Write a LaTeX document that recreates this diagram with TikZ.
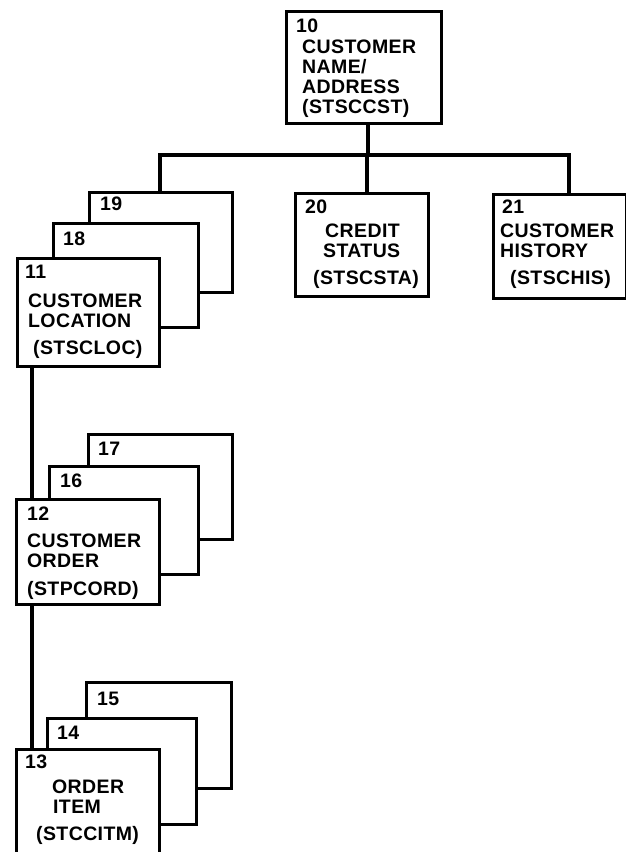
\documentclass[tikz,border=0pt]{standalone}
\usepackage{fontspec}
\setmainfont{Liberation Sans}[LetterSpace=2]
\begin{document}
\begin{tikzpicture}[x=1pt,y=-1pt,
  box/.style={draw=black, fill=white, line width=2.8pt, rectangle, inner sep=0pt, anchor=north west},
  link/.style={draw=black, line width=4.6pt, line join=miter},
  lbl/.style={anchor=base west, inner sep=0pt, font=\bfseries\fontsize{19.5}{20}\selectfont}]
\useasboundingbox (0,0) rectangle (626,852);
\clip (0,0) rectangle (626,852);

% root segment
\node[box, minimum width=155pt, minimum height=112pt] (b10) at (285,10) {};
\node[lbl] (t10a) at (296,32) {10};
\node[lbl] (t10b) at (302,53) {CUSTOMER};
\node[lbl] (t10c) at (302,73) {NAME/};
\node[lbl] (t10d) at (302,93) {ADDRESS};
\node[lbl] (t10e) at (302,113) {(STSCCST)};

% second level: stacked location segments
\node[box, minimum width=143pt, minimum height=100pt] (b19) at (88,191) {};
\node[lbl] (t19) at (100,210) {19};
\node[box, minimum width=145pt, minimum height=104pt] (b18) at (52,222) {};
\node[lbl] (t18) at (63,245) {18};
\node[box, minimum width=142pt, minimum height=108pt] (b11) at (16,257) {};
\node[lbl] (t11a) at (25,278) {11};
\node[lbl] (t11b) at (28,307) {CUSTOMER};
\node[lbl] (t11c) at (28,327) {LOCATION};
\node[lbl] (t11d) at (33,354) {(STSCLOC)};

% credit status
\node[box, minimum width=133pt, minimum height=103pt] (b20) at (294,192) {};
\node[lbl] (t20a) at (305,213) {20};
\node[lbl] (t20b) at (325,237) {CREDIT};
\node[lbl] (t20c) at (323,257) {STATUS};
\node[lbl] (t20d) at (313,284) {(STSCSTA)};

% customer history
\node[box, minimum width=133pt, minimum height=104pt] (b21) at (492,193) {};
\node[lbl] (t21a) at (502,213) {21};
\node[lbl] (t21b) at (500,237) {CUSTOMER};
\node[lbl] (t21c) at (500,257) {HISTORY};
\node[lbl] (t21d) at (510,284) {(STSCHIS)};

% customer order stack
\node[box, minimum width=144pt, minimum height=105pt] (b17) at (87,433) {};
\node[lbl] (t17) at (98,455) {17};
\node[box, minimum width=149pt, minimum height=108pt] (b16) at (48,465) {};
\node[lbl] (t16) at (60,487) {16};
\node[box, minimum width=143pt, minimum height=105pt] (b12) at (15,498) {};
\node[lbl] (t12a) at (27,520) {12};
\node[lbl] (t12b) at (27,547) {CUSTOMER};
\node[lbl] (t12c) at (27,567) {ORDER};
\node[lbl] (t12d) at (27,595) {(STPCORD)};

% order item stack
\node[box, minimum width=145pt, minimum height=106pt] (b15) at (85,681) {};
\node[lbl] (t15) at (97,705) {15};
\node[box, minimum width=149pt, minimum height=106pt] (b14) at (46,717) {};
\node[lbl] (t14) at (57,739) {14};
\node[box, minimum width=143pt, minimum height=110pt] (b13) at (15,748) {};
\node[lbl] (t13a) at (25,768) {13};
\node[lbl] (t13b) at (52,793) {ORDER};
\node[lbl] (t13c) at (53,813) {ITEM};
\node[lbl] (t13d) at (36,840) {(STCCITM)};

% connector junctions
\coordinate (hub) at (368,155);
\coordinate (barL) at (160,155);
\coordinate (barM) at (367,155);
\coordinate (barR) at (569,155);
\coordinate (vx) at (32,0);

\draw[link] (b10.south -| hub) -- (hub);
\draw[link] (barL |- b19.north) -- (barL) -- (barR) -- (barR |- b21.north);
\draw[link] (barM) -- (barM |- b20.north);
\draw[link] (b11.south -| vx) -- (b12.north -| vx);
\draw[link] (b12.south -| vx) -- (b13.north -| vx);
\end{tikzpicture}
\end{document}
